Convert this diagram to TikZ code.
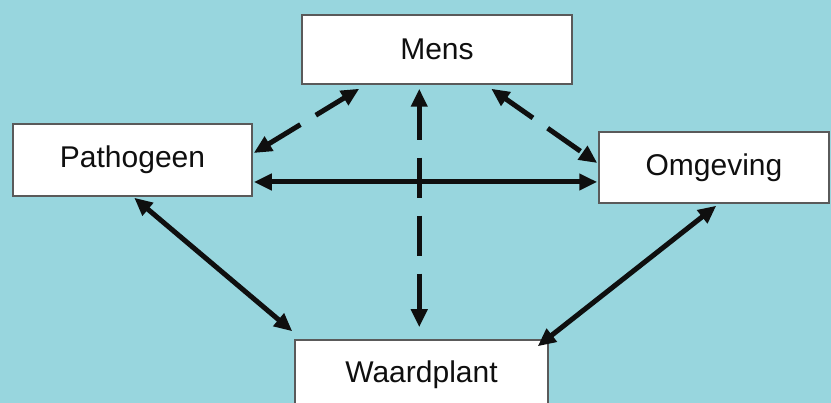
\documentclass[tikz,border=0pt]{standalone}
\usepackage{fontspec}
\setmainfont{Liberation Sans}
\usetikzlibrary{arrows.meta,calc}
\definecolor{bg}{RGB}{152,214,222}
\definecolor{boxline}{RGB}{90,90,90}
\definecolor{ink}{RGB}{15,15,15}
\tikzset{
  box/.style={draw=boxline,line width=1.5pt,fill=white,inner sep=0pt,text=ink,font=\fontsize{30}{36}\selectfont},
  link/.style={line width=5pt,draw=ink,{Triangle[length=18pt,width=16pt]}-{Triangle[length=18pt,width=16pt]}},
  dlink/.style={link,dash pattern=on 40pt off 18pt,dash phase=6pt}
}
\begin{document}
\begin{tikzpicture}[x=1pt,y=-1pt]
\fill[bg] (0,0) rectangle (831,403);
\useasboundingbox (0,0) rectangle (831,403);
\begin{scope}
\clip (0,0) rectangle (831,403);
\node[box,minimum width=270pt,minimum height=69pt] (mens) at (437,49.5) {Mens};
\node[box,minimum width=239pt,minimum height=72pt] (path) at (132.5,160) {Pathogeen};
\node[box,minimum width=230pt,minimum height=71pt] (omg) at (714,167.5) {Omgeving};
\node[box,minimum width=253pt,minimum height=70pt] (waard) at (421.5,375) {Waardplant};
\end{scope}
\coordinate (mpA) at ($(mens.south west)+(58,4)$);
\coordinate (mpB) at ($(path.east)+(1,-7)$);
\coordinate (poA) at ($(path.east)+(1,22)$);
\coordinate (poB) at ($(omg.west)+(-1,14.5)$);
\coordinate (moA) at ($(mens.south west)+(190,4)$);
\coordinate (moB) at ($(omg.west)+(-1,-4.5)$);
\coordinate (mwA) at ($(mens.south west)+(118,4)$);
\coordinate (mwB) at ($(waard.north west)+(125,-12)$);
\coordinate (pwA) at ($(path.south west)+(122,1)$);
\coordinate (pwB) at ($(waard.north west)+(-2,-8)$);
\coordinate (owA) at ($(omg.south west)+(118,2)$);
\coordinate (owB) at ($(waard.north east)+(-11,7)$);
\draw[dlink] (mpA) -- (mpB);
\draw[link] (poA) -- (poB);
\draw[dlink] (moA) -- (moB);
\draw[dlink] (mwA) -- (mwB);
\draw[link] (pwA) -- (pwB);
\draw[link] (owA) -- (owB);
\end{tikzpicture}
\end{document}
